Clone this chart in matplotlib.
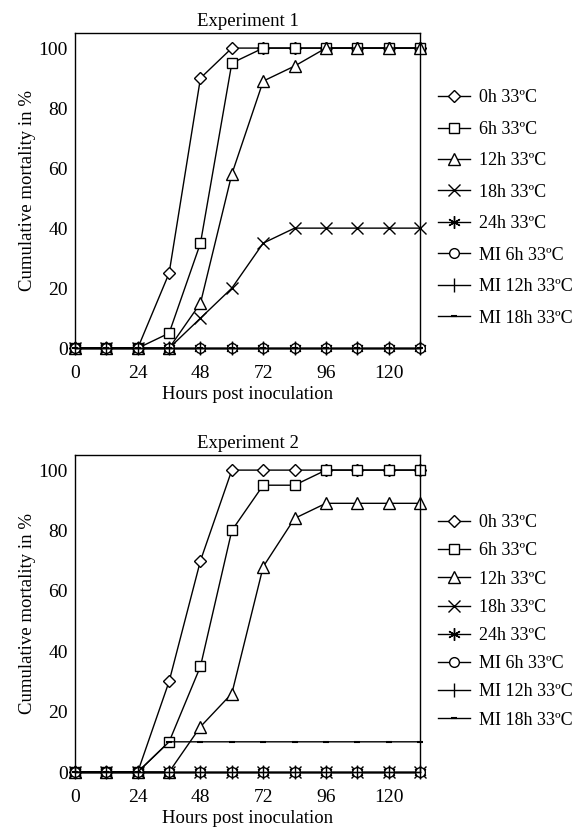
import matplotlib
matplotlib.use('Agg')
import matplotlib.pyplot as plt

plt.rcParams['font.family'] = ['Liberation Serif', 'DejaVu Serif']

hours = [0, 12, 24, 36, 48, 60, 72, 84, 96, 108, 120, 132]
labels = ['0h 33ºC', '6h 33ºC', '12h 33ºC', '18h 33ºC', '24h 33ºC',
          'MI 6h 33ºC', 'MI 12h 33ºC', 'MI 18h 33ºC']

# experiment 1
exp1_0h = [0, 0, 0, 25, 90, 100, 100, 100, 100, 100, 100, 100]
exp1_6h = [0, 0, 0, 5, 35, 95, 100, 100, 100, 100, 100, 100]
exp1_12h = [0, 0, 0, 0, 15, 58, 89, 94, 100, 100, 100, 100]
exp1_18h = [0, 0, 0, 0, 10, 20, 35, 40, 40, 40, 40, 40]
exp1_24h = [0] * 12
exp1_mi6 = [0] * 12
exp1_mi12 = [0] * 12
exp1_mi18 = [0] * 12

# experiment 2
exp2_0h = [0, 0, 0, 30, 70, 100, 100, 100, 100, 100, 100, 100]
exp2_6h = [0, 0, 0, 10, 35, 80, 95, 95, 100, 100, 100, 100]
exp2_12h = [0, 0, 0, 0, 15, 26, 68, 84, 89, 89, 89, 89]
exp2_18h = [0] * 12
exp2_24h = [0] * 12
exp2_mi6 = [0] * 12
exp2_mi12 = [0] * 12
exp2_mi18 = [0, 0, 0, 10, 10, 10, 10, 10, 10, 10, 10, 10]

styles = [
    dict(marker='D', ms=6.5),
    dict(marker='s', ms=7.5),
    dict(marker='^', ms=8),
    dict(marker='x', ms=8.5, mew=1.0),
    dict(marker=(6, 2, 0), ms=9, mew=1.0),
    dict(marker='o', ms=7),
    dict(marker='|', ms=10, mew=1.0),
    dict(marker='_', ms=5, mew=1.5),
]


def draw(ax, series, title, spacing, legend_y):
    for vals, lab, st in zip(series, labels, styles):
        ax.plot(hours, vals, color='black', lw=1.0, mfc='white', mec='black',
                label=lab, clip_on=False, **st)
    ax.set_xlim(0, 132)
    ax.set_ylim(0, 105)
    ax.set_xticks([0, 24, 48, 72, 96, 120])
    ax.set_yticks([0, 20, 40, 60, 80, 100])
    ax.tick_params(length=0, labelsize=14)
    ax.tick_params(axis='x', pad=12)
    ax.tick_params(axis='y', pad=5)
    ax.set_title(title, fontsize=13.5, pad=5)
    ax.set_xlabel('Hours post inoculation', fontsize=13.5, labelpad=3)
    ax.set_ylabel('Cumulative mortality in %', fontsize=13.5, labelpad=2)
    for s in ax.spines.values():
        s.set_linewidth(1.0)
    ax.legend(loc='center left', bbox_to_anchor=(1.03, legend_y), frameon=False,
              fontsize=13, handlelength=1.8, handletextpad=0.5,
              labelspacing=spacing, borderaxespad=0)


fig = plt.figure(figsize=(5.88, 8.27), dpi=100)
ax1 = fig.add_axes([0.1276, 0.579, 0.5867, 0.381])
ax2 = fig.add_axes([0.1276, 0.0665, 0.5867, 0.3833])

draw(ax1, [exp1_0h, exp1_6h, exp1_12h, exp1_18h, exp1_24h, exp1_mi6, exp1_mi12, exp1_mi18],
     'Experiment 1', 0.8, 0.445)
draw(ax2, [exp2_0h, exp2_6h, exp2_12h, exp2_18h, exp2_24h, exp2_mi6, exp2_mi12, exp2_mi18],
     'Experiment 2', 0.62, 0.475)

fig.savefig('out.png', dpi=100)
